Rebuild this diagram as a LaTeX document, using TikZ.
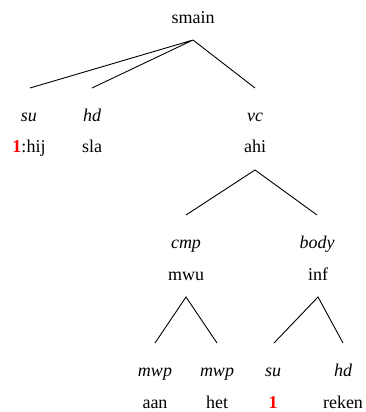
\documentclass[tikz,border=0pt]{standalone}
\usepackage{fontspec}
\setmainfont{Liberation Serif}
\begin{document}
\begin{tikzpicture}[x=1pt,y=1pt,
  every node/.style={inner sep=0pt,anchor=base,font=\fontsize{18}{20}\selectfont},
  rel/.style={font=\fontsize{18}{20}\selectfont\itshape},
  edge/.style={line width=0.9pt},
  idx/.style={text=red,font=\fontsize{18}{20}\selectfont\bfseries}]
\useasboundingbox (0,0) rectangle (366,-412);
% top
\node (smain) at (193,-24) {smain};
\coordinate (smainb) at (193,-40);
\coordinate (sut) at (30,-88);
\coordinate (hdt) at (92,-88);
\coordinate (vct) at (255,-88);
\node[rel] (su) at (29,-121) {su};
\node[rel] (hd) at (92,-121) {hd};
\node[rel] (vc) at (255,-121) {vc};
\node (hij) at (29,-152) {\textcolor{red}{\textbf{1}}:hij};
\node (sla) at (92,-152) {sla};
\node (ahi) at (255,-152) {ahi};
\draw[edge] (sut) -- (smainb) -- (hdt);
\draw[edge] (smainb) -- (vct);
% ahi
\coordinate (ahib) at (255,-170);
\coordinate (cmpt) at (186,-215);
\coordinate (bodyt) at (317,-215);
\draw[edge] (cmpt) -- (ahib) -- (bodyt);
\node[rel] (cmp) at (186,-248) {cmp};
\node[rel] (body) at (317,-248) {body};
\node (mwu) at (186,-280) {mwu};
\node (inf) at (318,-280) {inf};
% mwu
\coordinate (mwub) at (186,-297);
\coordinate (mwp1t) at (155,-343);
\coordinate (mwp2t) at (217,-343);
\draw[edge] (mwp1t) -- (mwub) -- (mwp2t);
% inf
\coordinate (infb) at (318,-297);
\coordinate (su2t) at (274,-343);
\coordinate (hd2t) at (343,-343);
\draw[edge] (su2t) -- (infb) -- (hd2t);
\node[rel] (mwp1) at (155,-376) {mwp};
\node[rel] (mwp2) at (217,-376) {mwp};
\node[rel] (su2) at (273,-376) {su};
\node[rel] (hd2) at (343,-376) {hd};
\node (aan) at (155,-408) {aan};
\node (het) at (217,-408) {het};
\node[idx] (one) at (273,-408) {1};
\node (reken) at (343,-408) {reken};
\end{tikzpicture}
\end{document}
